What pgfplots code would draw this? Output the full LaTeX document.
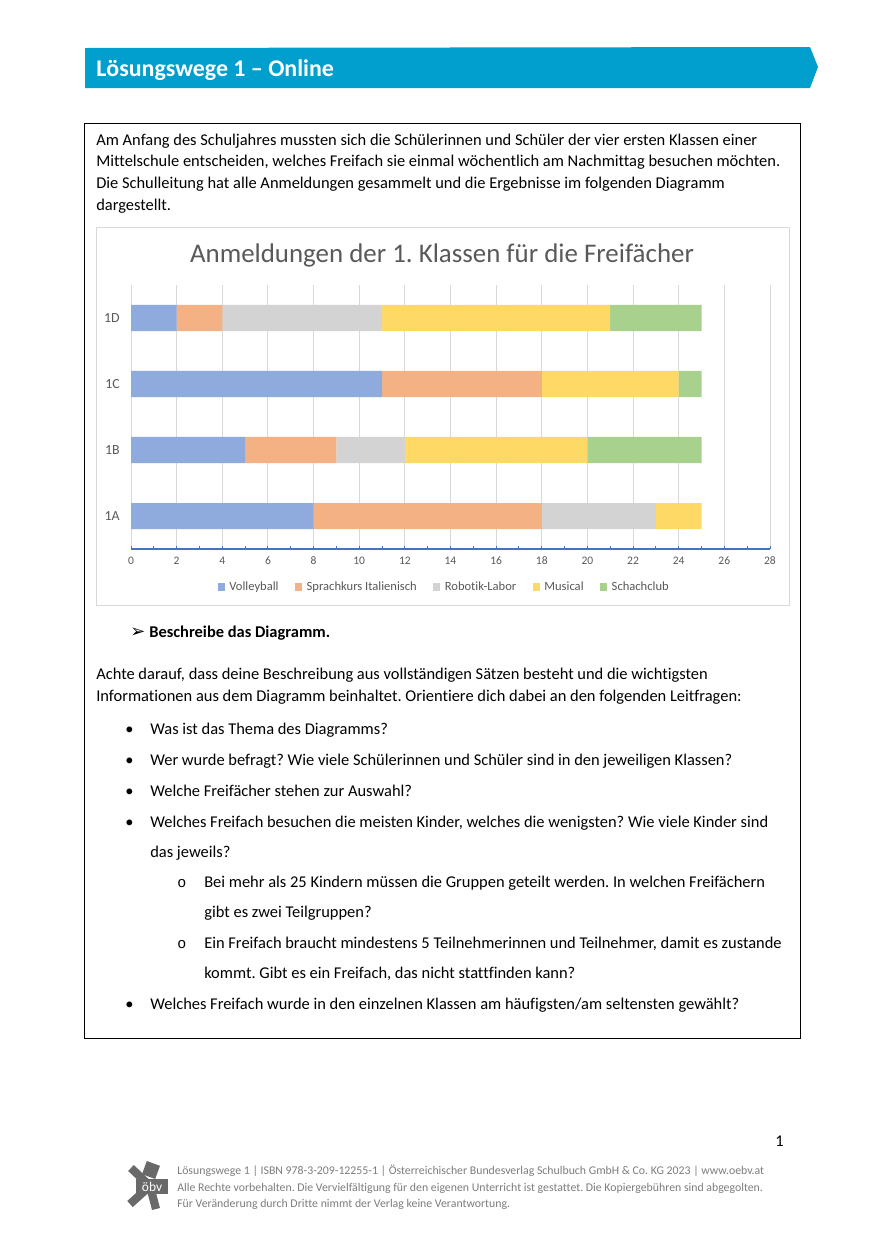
\documentclass[border=0pt]{standalone}
\usepackage{pgfplots}
\pgfplotsset{compat=1.18}
\usepackage{fontspec}
\setmainfont{Carlito}[Ligatures=NoCommon]
\newfontfamily\dejavu{DejaVu Sans}
\newfontfamily\mono{Liberation Mono}
\frenchspacing

\definecolor{banner}{RGB}{0,159,205}
\definecolor{volley}{RGB}{143,170,220}
\definecolor{sprach}{RGB}{244,177,131}
\definecolor{robotik}{RGB}{211,211,211}
\definecolor{musical}{RGB}{255,217,102}
\definecolor{schach}{RGB}{169,209,142}
\definecolor{txtgray}{RGB}{89,89,89}
\definecolor{gridgray}{RGB}{217,217,217}
\definecolor{axblue}{RGB}{68,114,196}
\definecolor{footgray}{RGB}{125,125,125}
\definecolor{logogray}{RGB}{105,105,105}

\newcommand\bodyfont{\fontsize{11pt}{13pt}\selectfont}

\begin{document}
% coordinates in pixels of the page, y measured downwards as negative values
\begin{tikzpicture}[x=0.6689pt,y=0.6689pt,
    txt/.style={anchor=base west,inner sep=0pt,font=\bodyfont}]
\path[use as bounding box,fill=white] (0,0) rectangle (890,-1259);

% header banner
\fill[banner] (85,-48) -- (810,-47) -- (818,-67) -- (810,-88) -- (85,-88) -- cycle;
\node[anchor=base west,inner sep=0pt,text=white,font=\fontsize{16pt}{18pt}\selectfont\bfseries] at (96,-76) {Lösungswege 1 – Online};

% frame
\draw[black,line width=0.6pt] (84,-123) rectangle (800,-1038);

\node[txt] at (96,-145) {Am Anfang des Schuljahres mussten sich die Schülerinnen und Schüler der vier ersten Klassen einer};
\node[txt] at (96,-166) {Mittelschule entscheiden, welches Freifach sie einmal wöchentlich am Nachmittag besuchen möchten.};
\node[txt] at (96,-188) {Die Schulleitung hat alle Anmeldungen gesammelt und die Ergebnisse im folgenden Diagramm};
\node[txt] at (96,-210) {dargestellt.};

% chart box
\draw[gridgray,line width=0.5pt] (96,-227) rectangle (789,-605);
\node[anchor=base,inner sep=0pt,text=txtgray,font=\fontsize{18pt}{20pt}\selectfont] at (442,-262) {Anmeldungen der 1. Klassen für die Freifächer};

\coordinate (chartorigin) at (131,-549);
\begin{axis}[at={(chartorigin)}, anchor=south west, scale only axis,
    width=427.4pt, height=176.6pt,
    xbar stacked, bar width=17.4pt,
    xmin=0, xmax=28, ymin=-0.5, ymax=3.5,
    xtick={0,2,...,28}, minor xtick={1,3,...,27},
    ytick={0,1,2,3}, yticklabels={1A,1B,1C,1D},
    /pgf/number format/assume math mode=true,
    axis x line*=bottom, axis y line*=left,
    x axis line style={axblue,line width=0.9pt,-},
    y axis line style={draw=none},
    ytick style={draw=none},
    xtick style={axblue,line width=0.6pt},
    minor x tick style={axblue,line width=0.6pt},
    tick align=inside, major tick length=2.2pt, minor tick length=2.2pt,
    xmajorgrids, major grid style={gridgray,line width=0.6pt},
    xticklabel style={text=txtgray,font=\fontsize{7.7pt}{9pt}\selectfont,
        text height=5pt, text depth=0pt},
    yticklabel style={text=txtgray,font=\fontsize{9.3pt}{11pt}\selectfont},
    xticklabel shift=2pt, yticklabel shift=4pt,
    legend columns=5,
    legend style={at={(0.491,-0.144)}, anchor=center, draw=none, fill=none,
        font=\fontsize{8.4pt}{10pt}\selectfont, text=txtgray,
        /tikz/every even column/.append style={column sep=9pt},
        /tikz/every odd column/.append style={column sep=1pt}},
    legend image code/.code={\fill[#1] (0pt,-2.4pt) rectangle (4.8pt,2.4pt);},
    clip=false]
\addplot[fill=volley,draw=none] coordinates {(8,0) (5,1) (11,2) (2,3)};
\addplot[fill=sprach,draw=none] coordinates {(10,0) (4,1) (7,2) (2,3)};
\addplot[fill=robotik,draw=none] coordinates {(5,0) (3,1) (0,2) (7,3)};
\addplot[fill=musical,draw=none] coordinates {(2,0) (8,1) (6,2) (10,3)};
\addplot[fill=schach,draw=none] coordinates {(0,0) (5,1) (1,2) (4,3)};
\legend{Volleyball,Sprachkurs Italienisch,Robotik-Labor,Musical,Schachclub}
\end{axis}

% task
\node[anchor=base west,inner sep=0pt,font=\fontsize{12pt}{14pt}\selectfont\dejavu] at (130,-637) {➢};
\node[txt,font=\bodyfont\bfseries] at (149,-637) {Beschreibe das Diagramm.};

\node[txt] at (96,-679) {Achte darauf, dass deine Beschreibung aus vollständigen Sätzen besteht und die wichtigsten};
\node[txt] at (96,-701) {Informationen aus dem Diagramm beinhaltet. Orientiere dich dabei an den folgenden Leitfragen:};

\foreach \yy in {734,765,796,827,1009}
  \node[txt] at (125,-\yy) {•};
\node[txt] at (150,-734) {Was ist das Thema des Diagramms?};
\node[txt] at (150,-765) {Wer wurde befragt? Wie viele Schülerinnen und Schüler sind in den jeweiligen Klassen?};
\node[txt] at (150,-796) {Welche Freifächer stehen zur Auswahl?};
\node[txt] at (150,-827) {Welches Freifach besuchen die meisten Kinder, welches die wenigsten? Wie viele Kinder sind};
\node[txt] at (150,-857) {das jeweils?};
\foreach \yy in {887,948}
  \node[txt,font=\fontsize{10pt}{12pt}\selectfont\mono] at (177,-\yy) {o};
\node[txt] at (204,-887) {Bei mehr als 25 Kindern müssen die Gruppen geteilt werden. In welchen Freifächern};
\node[txt] at (204,-917) {gibt es zwei Teilgruppen?};
\node[txt] at (204,-948) {Ein Freifach braucht mindestens 5 Teilnehmerinnen und Teilnehmer, damit es zustande};
\node[txt] at (204,-978) {kommt. Gibt es ein Freifach, das nicht stattfinden kann?};
\node[txt] at (150,-1009) {Welches Freifach wurde in den einzelnen Klassen am häufigsten/am seltensten gewählt?};

% page number
\node[txt] at (775,-1146) {1};

% footer logo
\begin{scope}[logogray,line width=5.5pt,line cap=butt]
\draw (150,-1186) -- (131,-1168);
\draw (150,-1186) -- (130,-1204);
\draw (150,-1186) -- (156,-1209);
\end{scope}
\fill[logogray,rotate around={-20:(151,-1170)}] (144,-1163) rectangle (158,-1177);
\fill[logogray] (136,-1179) rectangle (168,-1194);
\node[anchor=base,inner sep=0pt,text=white,font=\fontsize{9pt}{10pt}\selectfont] at (152,-1191) {öbv};

\begin{scope}[every node/.style={anchor=base west,inner sep=0pt,text=footgray,font=\fontsize{7.9pt}{9pt}\selectfont}]
\node at (177,-1174) {Lösungswege 1 | ISBN 978-3-209-12255-1 | Österreichischer Bundesverlag Schulbuch GmbH \& Co. KG 2023 | www.oebv.at};
\node at (177,-1191) {Alle Rechte vorbehalten. Die Vervielfältigung für den eigenen Unterricht ist gestattet. Die Kopiergebühren sind abgegolten.};
\node at (177,-1207) {Für Veränderung durch Dritte nimmt der Verlag keine Verantwortung.};
\end{scope}
\end{tikzpicture}
\end{document}
